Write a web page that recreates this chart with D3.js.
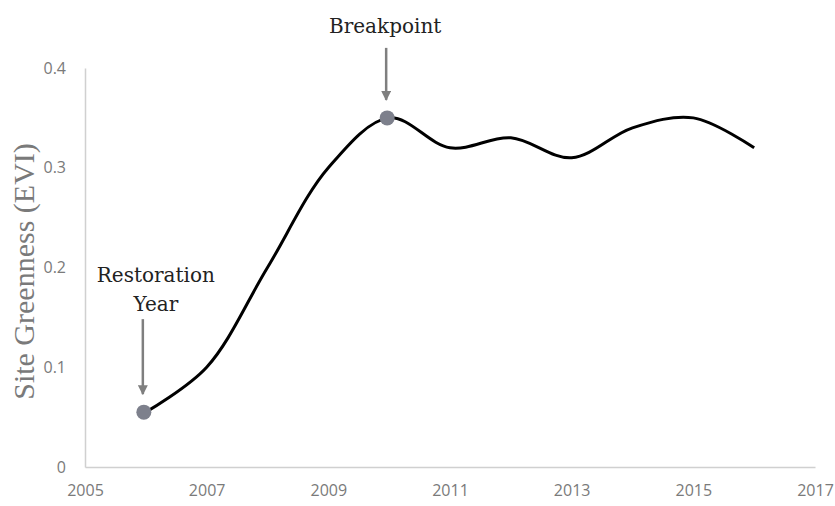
<!DOCTYPE html>
<html>
<head>
<meta charset="utf-8">
<script src="https://cdn.jsdelivr.net/npm/d3@7"></script>
<style>
  body { margin: 0; background: #fff; }
</style>
</head>
<body>
<script>
var years = [2006, 2007, 2008, 2009, 2010, 2011, 2012, 2013, 2014, 2015, 2016];
var evi = [0.055, 0.10, 0.20, 0.30, 0.35, 0.32, 0.33, 0.31, 0.34, 0.35, 0.32];
var xTicks = [2005, 2007, 2009, 2011, 2013, 2015, 2017];
var yTicks = [0, 0.1, 0.2, 0.3, 0.4];
var noteYears = [2006, 2010];
var noteValues = [0.055, 0.35];
var noteLabels = [["Restoration", "Year"], ["Breakpoint"]];

var svgWidth = 835;
var svgHeight = 506;

var margin = { top: 68, right: 20, bottom: 39, left: 85 };
var width = 815 - margin.left;
var height = 467 - margin.top;

// annotation placement (arrow top, text baseline, text shift), relative to the marker
var noteLayout = [
    { arrowTop: 93, textBase: 101, dx: 10 },
    { arrowTop: 70, textBase: 85, dx: -4 }
];

var svg = d3.select("body")
    .append("svg")
    .attr("width", svgWidth)
    .attr("height", svgHeight);

var chartGroup = svg.append("g")
    .attr("transform", `translate(${margin.left}, ${margin.top})`);

// scales
var xScale = d3.scaleLinear().domain([2005, 2017]).range([0, width]);
var yScale = d3.scaleLinear().domain([0, 0.4]).range([height, 0]);

// axes
var bottomAxis = d3.axisBottom(xScale).tickValues(xTicks).tickFormat(d3.format("d")).tickSize(0).tickPadding(18);
var leftAxis = d3.axisLeft(yScale).tickValues(yTicks).tickFormat(d => d === 0 ? "0" : d3.format(".1f")(d)).tickSize(0).tickPadding(19);

var gx = chartGroup.append("g")
    .attr("transform", `translate(0, ${height})`)
    .call(bottomAxis);

var gy = chartGroup.append("g")
    .call(leftAxis);

[gx, gy].forEach(function(g) {
    g.attr("font-size", 16).attr("font-family", "'Open Sans', 'Liberation Sans', sans-serif");
    g.select(".domain").attr("stroke", "#d0d0d0").attr("stroke-width", 1.5);
    g.selectAll(".tick text").attr("fill", "#7a7a7a");
});

// y title
svg.append("text")
    .attr("transform", `translate(34, ${margin.top + height / 2 + 4}) rotate(-90)`)
    .attr("text-anchor", "middle")
    .style("font-family", "'Liberation Serif', 'DejaVu Serif', serif")
    .style("font-size", "30px")
    .style("fill", "#7a7a7a")
    .text("Site Greenness (EVI)");

// smoothed line
var line = d3.line()
    .x((d, i) => xScale(years[i]))
    .y(d => yScale(d))
    .curve(d3.curveCatmullRom.alpha(0.5));

chartGroup.append("path")
    .datum(evi)
    .attr("d", line)
    .attr("fill", "none")
    .attr("stroke", "#000")
    .attr("stroke-width", 3);

// arrow marker
svg.append("defs").append("marker")
    .attr("id", "arrow")
    .attr("viewBox", "0 0 10 10")
    .attr("refX", 9).attr("refY", 5)
    .attr("markerWidth", 4).attr("markerHeight", 4)
    .attr("markerUnits", "strokeWidth")
    .attr("orient", "auto")
    .append("path")
    .attr("d", "M0,0 L10,5 L0,10 z")
    .attr("fill", "#7f7f7f");

// annotations
noteYears.forEach(function(yr, k) {
    var cx = xScale(yr);
    var cy = yScale(noteValues[k]);
    var lay = noteLayout[k];
    var lines = noteLabels[k];
    chartGroup.append("line")
        .attr("x1", cx - 3).attr("x2", cx - 3)
        .attr("y1", cy - lay.arrowTop).attr("y2", cy - 18)
        .attr("stroke", "#7f7f7f")
        .attr("stroke-width", 2.5)
        .attr("marker-end", "url(#arrow)");
    lines.forEach(function(t, i) {
        chartGroup.append("text")
            .attr("x", cx + lay.dx)
            .attr("y", cy - lay.textBase - (lines.length - 1 - i) * 29)
            .attr("text-anchor", "middle")
            .style("font-family", "'DejaVu Serif', 'Liberation Serif', serif")
            .style("font-size", "20px")
            .style("fill", "#222")
            .text(t);
    });
    chartGroup.append("circle")
        .attr("cx", cx - 2)
        .attr("cy", cy)
        .attr("r", 7.5)
        .attr("fill", "#7d808c");
});
</script>
</body>
</html>
